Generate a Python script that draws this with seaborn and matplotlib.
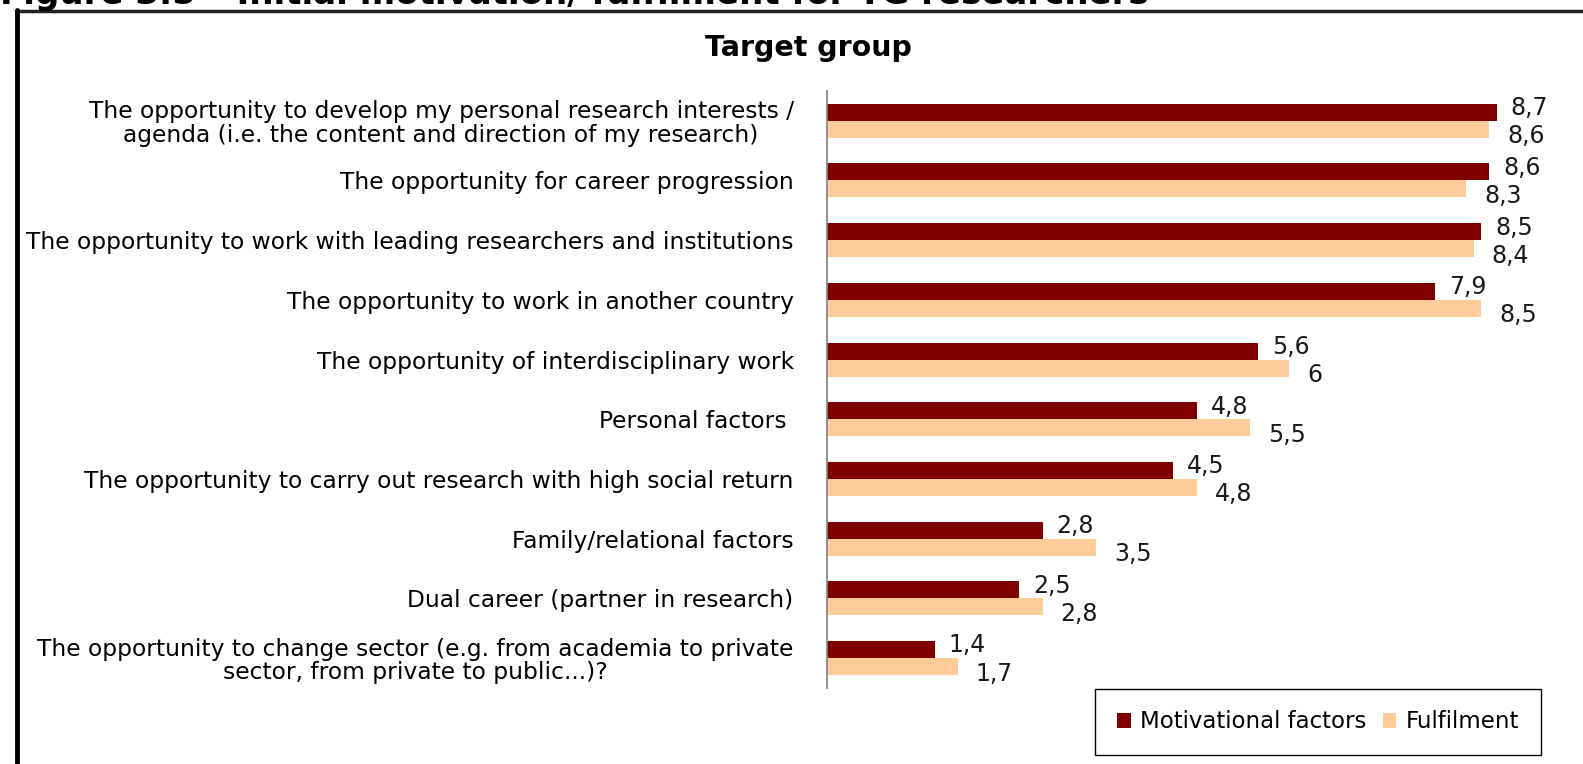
import pandas as pd
import seaborn as sns
import matplotlib.pyplot as plt
from matplotlib.lines import Line2D

# chart data
factors = [
    "The opportunity to develop my personal research interests /\nagenda (i.e. the content and direction of my research)",
    "The opportunity for career progression",
    "The opportunity to work with leading researchers and institutions",
    "The opportunity to work in another country",
    "The opportunity of interdisciplinary work",
    "Personal factors ",
    "The opportunity to carry out research with high social return",
    "Family/relational factors",
    "Dual career (partner in research)",
    "The opportunity to change sector (e.g. from academia to private\nsector, from private to public...)?",
]
motivational = [8.7, 8.6, 8.5, 7.9, 5.6, 4.8, 4.5, 2.8, 2.5, 1.4]
fulfilment = [8.6, 8.3, 8.4, 8.5, 6.0, 5.5, 4.8, 3.5, 2.8, 1.7]
series_names = ["Motivational factors", "Fulfilment"]
colors = ["#800000", "#FFCC99"]

df = pd.DataFrame({
    "factor": factors * 2,
    "value": motivational + fulfilment,
    "series": [series_names[0]] * len(factors) + [series_names[1]] * len(factors),
})

sns.set_style("white")
plt.rcParams["font.family"] = ["DejaVu Sans"]
plt.rcParams["text.color"] = "black"
plt.rcParams["ytick.labelcolor"] = "black"

fig = plt.figure(figsize=(15.83, 7.64), dpi=100)
ax = fig.add_axes([0.5224, 0.0995, 0.4776, 0.7815])

sns.barplot(data=df, y="factor", x="value", hue="series", orient="h",
            palette=colors, width=0.57, saturation=1, linewidth=0,
            ax=ax, legend=True)

ax.set_xlim(0, 9.82)
ax.set_ylim(len(factors) - 0.5, -0.5)
ax.set_xlabel("")
ax.set_ylabel("")
ax.set_xticks([])

for side in ["top", "right", "bottom"]:
    ax.spines[side].set_visible(False)
ax.spines["left"].set_color("#888888")
ax.spines["left"].set_linewidth(1.3)

# category labels, ticks between categories like Excel
ax.tick_params(axis="y", which="major", length=0, pad=24, labelsize=16.8,
               labelcolor="black")
ax.set_yticks([i + 0.5 for i in range(-1, len(factors))], minor=True)
ax.tick_params(axis="y", which="minor", length=6, color="#888888", width=1.3)
for lbl in ax.get_yticklabels():
    lbl.set_multialignment("center")
    lbl.set_linespacing(1.03)

# value labels with comma decimals
def fmt(v):
    return f"{v:g}".replace(".", ",")

for cont, dy, dx in zip(ax.containers, [3, -5], [10, 13]):
    for bar in cont:
        w = bar.get_width()
        yc = bar.get_y() + bar.get_height() / 2
        ax.annotate(fmt(w), (w, yc), xytext=(dx, dy), textcoords="offset points",
                    ha="left", va="center", fontsize=17, color="#1a1a1a",
                    annotation_clip=False)

# legend box at the lower right
leg = ax.legend(loc="center", bbox_to_anchor=(1318 / 1583, 1 - 722 / 764),
                bbox_transform=fig.transFigure, ncol=2, fontsize=16.5,
                frameon=True, fancybox=False, edgecolor="black",
                handlelength=0.6, handleheight=0.6, columnspacing=0.7,
                handletextpad=0.4, borderpad=0.95, framealpha=1)
leg.get_frame().set_linewidth(1.0)
for t in leg.get_texts():
    t.set_color("black")

# chart title
fig.text(808 / 1583, 1 - 48 / 764, "Target group", ha="center", va="center",
         fontsize=20.5, fontweight="bold", color="black")

# cropped figure caption and frame of the original page
fig.text(0.0, 1 - 4 / 764, "Figure 3.5 \u2013 Initial motivation/ fulfilment for TG researchers",
         ha="left", va="baseline", fontsize=24.5, fontweight="bold", color="black")
fig.add_artist(Line2D([17 / 1583, 1.0], [1 - 11 / 764, 1 - 11 / 764],
                      color="#222222", linewidth=2.5, transform=fig.transFigure))
fig.add_artist(Line2D([17 / 1583, 17 / 1583], [0, 1 - 10 / 764],
                      color="black", linewidth=3.5, transform=fig.transFigure))

fig.savefig("out.png", dpi=100)
